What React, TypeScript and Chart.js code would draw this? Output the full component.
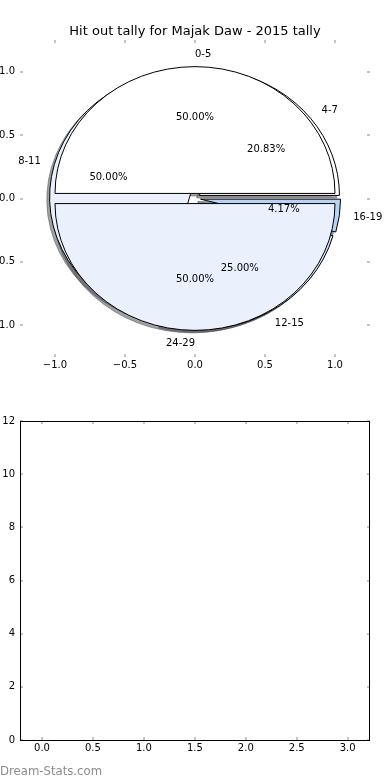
import React, { useEffect, useRef } from 'react';
import { Chart, registerables } from 'chart.js';

Chart.register(...registerables);
Chart.defaults.font.family = '"DejaVu Sans", sans-serif';
Chart.defaults.font.size = 10;
Chart.defaults.color = '#000';

const TITLE = 'Hit out tally for Majak Daw - 2015 tally';

// first pie (drawn underneath)
const pieOneLabels = ['4-7', '8-11', '12-15', '16-19'];
const pieOneValues = [5, 12, 6, 1];
const pieOneColors = ['#ffffff', '#eaf1fd', '#d3e3fa', '#b8d3f7'];

// second pie (drawn on top)
const pieTwoLabels = ['0-5', '24-29'];
const pieTwoValues = [12, 12];
const pieTwoColors = ['#ffffff', '#eaf1fd'];

const pieTicks = [-1, -0.5, 0, 0.5, 1];

// empty lower panel
const barCategories: number[] = [];
const barValues: number[] = [];
const barXTicks = [0, 0.5, 1, 1.5, 2, 2.5, 3];
const barYTicks = [0, 2, 4, 6, 8, 10, 12];

const EXPLODE = 0.04;
const LABEL_DIST = 1.1;
const PCT_DIST = 0.6;
const SHADOW = -0.02;

const fmt1 = (v: any) => {
  const s = Number(v).toFixed(1);
  return s === '-0.0' ? '0.0' : s.replace('-', '\u2212');
};

function hexToRgb(h: string) {
  const n = parseInt(h.slice(1), 16);
  return [(n >> 16) & 255, (n >> 8) & 255, n & 255];
}

const piePlugin = {
  id: 'pieWedges',
  afterDatasetsDraw(chart: any) {
    const { ctx, chartArea, scales } = chart;
    const xs = scales.x;
    const ys = scales.y;
    const rx = xs.getPixelForValue(1) - xs.getPixelForValue(0);
    const ry = ys.getPixelForValue(0) - ys.getPixelForValue(1);
    const pies = [
      { labels: pieOneLabels, values: pieOneValues, colors: pieOneColors },
      { labels: pieTwoLabels, values: pieTwoValues, colors: pieTwoColors },
    ];
    const wedges: any[] = [];
    pies.forEach((p) => {
      const total = p.values.reduce((a, b) => a + b, 0);
      let t1 = 0;
      p.values.forEach((v, i) => {
        const t2 = t1 + v / total;
        const mid = 2 * Math.PI * 0.5 * (t1 + t2);
        wedges.push({
          a1: 2 * Math.PI * t1,
          a2: 2 * Math.PI * t2,
          mid,
          cx: EXPLODE * Math.cos(mid),
          cy: EXPLODE * Math.sin(mid),
          color: p.colors[i],
          label: p.labels[i],
          pct: ((100 * v) / total).toFixed(2) + '%',
        });
        t1 = t2;
      });
    });
    const path = (w: any, ox: number, oy: number) => {
      const X = xs.getPixelForValue(w.cx + ox);
      const Y = ys.getPixelForValue(w.cy + oy);
      ctx.beginPath();
      ctx.moveTo(X, Y);
      ctx.ellipse(X, Y, rx, ry, 0, -w.a1, -w.a2, true);
      ctx.closePath();
    };
    ctx.save();
    ctx.beginPath();
    ctx.rect(chartArea.left, chartArea.top, chartArea.right - chartArea.left, chartArea.bottom - chartArea.top);
    ctx.clip();
    ctx.lineWidth = 1;
    wedges.forEach((w) => {
      const [r, g, b] = hexToRgb(w.color);
      const c = `rgba(${Math.round(r * 0.3)},${Math.round(g * 0.3)},${Math.round(b * 0.3)},0.5)`;
      path(w, SHADOW, SHADOW);
      ctx.fillStyle = c;
      ctx.fill();
      ctx.strokeStyle = c;
      ctx.stroke();
    });
    wedges.forEach((w) => {
      path(w, 0, 0);
      ctx.fillStyle = w.color;
      ctx.fill();
      ctx.strokeStyle = '#000';
      ctx.stroke();
    });
    ctx.restore();

    ctx.save();
    ctx.font = '10px "DejaVu Sans"';
    ctx.fillStyle = '#000';
    ctx.textBaseline = 'middle';
    wedges.forEach((w) => {
      const lx = w.cx + LABEL_DIST * Math.cos(w.mid);
      const ly = w.cy + LABEL_DIST * Math.sin(w.mid);
      ctx.textAlign = lx > 0 ? 'left' : 'right';
      ctx.fillText(w.label, xs.getPixelForValue(lx), ys.getPixelForValue(ly));
      const px = w.cx + PCT_DIST * Math.cos(w.mid);
      const py = w.cy + PCT_DIST * Math.sin(w.mid);
      ctx.textAlign = 'center';
      ctx.fillText(w.pct, xs.getPixelForValue(px), ys.getPixelForValue(py));
    });
    ctx.restore();
  },
};

const tickPlugin = {
  id: 'innerTicks',
  afterDraw(chart: any, _args: any, opts: any) {
    const { ctx, chartArea: a, scales } = chart;
    const L = 3;
    ctx.save();
    ctx.strokeStyle = '#c4c4c4';
    ctx.lineWidth = 2;
    const line = (x1: number, y1: number, x2: number, y2: number) => {
      ctx.beginPath();
      ctx.moveTo(x1, y1);
      ctx.lineTo(x2, y2);
      ctx.stroke();
    };
    scales.x.ticks.forEach((t: any) => {
      const p = Math.round(scales.x.getPixelForValue(t.value));
      line(p, a.bottom, p, a.bottom - L);
      line(p, a.top, p, a.top + L);
    });
    scales.y.ticks.forEach((t: any) => {
      const p = Math.round(scales.y.getPixelForValue(t.value));
      line(a.left, p, a.left + L, p);
      line(a.right, p, a.right - L, p);
    });
    if (opts && opts.frame) {
      ctx.strokeStyle = '#000';
      ctx.lineWidth = 1;
      ctx.strokeRect(a.left + 0.5, a.top + 0.5, a.right - a.left - 1, a.bottom - a.top);
    }
    ctx.restore();
  },
};

export default function App() {
  const topRef = useRef<HTMLCanvasElement>(null);
  const botRef = useRef<HTMLCanvasElement>(null);

  useEffect(() => {
    const top = new Chart(topRef.current as HTMLCanvasElement, {
      type: 'scatter',
      data: { datasets: [] },
      plugins: [piePlugin, tickPlugin],
      options: {
        animation: false,
        responsive: true,
        maintainAspectRatio: false,
        layout: { padding: { left: 0, right: 20, top: 2, bottom: 0 } },
        plugins: {
          legend: { display: false },
          tooltip: { enabled: false },
          title: {
            display: true,
            text: TITLE,
            fullSize: false,
            color: '#000',
            font: { size: 13, weight: 'normal', family: '"DejaVu Sans", sans-serif' },
            padding: { top: 22, bottom: 0.4 },
          },
          innerTicks: { frame: false },
        } as any,
        scales: {
          x: {
            type: 'linear',
            position: 'bottom',
            min: -1.25,
            max: 1.25,
            grid: { display: false, drawTicks: false },
            border: { display: false },
            ticks: { padding: 2, maxRotation: 0, autoSkip: false, callback: fmt1 },
            afterBuildTicks: (s: any) => {
              s.ticks = pieTicks.map((v) => ({ value: v }));
            },
            afterFit: (s: any) => {
              s.height = 23;
            },
          },
          y: {
            type: 'linear',
            position: 'left',
            min: -1.25,
            max: 1.25,
            grid: { display: false, drawTicks: false },
            border: { display: false },
            ticks: { padding: 5, autoSkip: false, callback: fmt1 },
            afterBuildTicks: (s: any) => {
              s.ticks = pieTicks.map((v) => ({ value: v }));
            },
            afterFit: (s: any) => {
              s.width = 20;
            },
          },
        },
      } as any,
    });

    const bot = new Chart(botRef.current as HTMLCanvasElement, {
      type: 'bar',
      data: {
        datasets: [
          {
            data: barCategories.map((c, i) => ({ x: c, y: barValues[i] })),
            backgroundColor: '#eaf1fd',
          },
        ],
      },
      plugins: [tickPlugin],
      options: {
        animation: false,
        responsive: true,
        maintainAspectRatio: false,
        layout: { padding: { left: 0, right: 20, top: 31, bottom: 0 } },
        plugins: {
          legend: { display: false },
          tooltip: { enabled: false },
          innerTicks: { frame: true },
        } as any,
        scales: {
          x: {
            type: 'linear',
            position: 'bottom',
            offset: false,
            min: -0.216,
            max: 3.219,
            grid: { display: false, drawTicks: false, offset: false },
            border: { display: false },
            ticks: { padding: 2, maxRotation: 0, autoSkip: false, callback: fmt1 },
            afterBuildTicks: (s: any) => {
              s.ticks = barXTicks.map((v) => ({ value: v }));
            },
            afterFit: (s: any) => {
              s.height = 40;
            },
          },
          y: {
            type: 'linear',
            position: 'left',
            min: 0,
            max: 12,
            grid: { display: false, drawTicks: false },
            border: { display: false },
            ticks: { padding: 5, autoSkip: false, callback: (v: any) => String(v) },
            afterBuildTicks: (s: any) => {
              s.ticks = barYTicks.map((v) => ({ value: v }));
            },
            afterFit: (s: any) => {
              s.width = 20;
            },
          },
        },
      } as any,
    });

    return () => {
      top.destroy();
      bot.destroy();
    };
  }, []);

  return (
    <div style={{ position: 'absolute', left: 0, top: 0, width: 390, height: 780, background: '#fff', overflow: 'hidden' }}>
      <div style={{ position: 'absolute', left: 0, top: 0, width: 390, height: 380 }}>
        <canvas ref={topRef} />
      </div>
      <div style={{ position: 'absolute', left: 0, top: 390, width: 390, height: 390 }}>
        <canvas ref={botRef} />
      </div>
      <div
        style={{
          position: 'absolute',
          left: 0,
          top: 764,
          fontFamily: '"DejaVu Sans", sans-serif',
          fontSize: 11.7,
          lineHeight: '14px',
          color: '#8c8c8c',
          whiteSpace: 'nowrap',
        }}
      >
        Dream-Stats.com
      </div>
    </div>
  );
}
